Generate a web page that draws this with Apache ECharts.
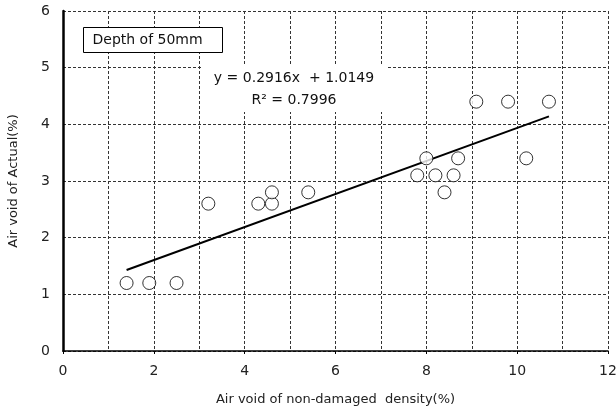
<!DOCTYPE html>
<html>
<head>
<meta charset="utf-8">
<script src="https://cdn.jsdelivr.net/npm/echarts@6/dist/echarts.min.js"></script>
<style>
  html, body { margin: 0; padding: 0; background: #fff; }
  #chart { width: 616px; height: 413px; }
</style>
</head>
<body>
<div id="chart"></div>
<script>
// measured points (x: non-damaged density air void, y: actual air void)
const airVoidX = [1.4, 1.9, 2.5, 3.2, 4.3, 4.6, 4.6, 5.4, 7.8, 8.0, 8.2, 8.4, 8.6, 8.7, 9.1, 9.8, 10.2, 10.7];
const airVoidY = [1.2, 1.2, 1.2, 2.6, 2.6, 2.6, 2.8, 2.8, 3.1, 3.4, 3.1, 2.8, 3.1, 3.4, 4.4, 4.4, 3.4, 4.4];

// linear trend line end points
const trendX = [1.4, 10.7];
const trendY = [1.43, 4.14];

const xTicks = [0, 2, 4, 6, 8, 10, 12];
const yTicks = [0, 1, 2, 3, 4, 5, 6];

const boxLabel = 'Depth of 50mm';
const eqLine1 = 'y = 0.2916x  + 1.0149';
const eqLine2 = 'R\u00b2 = 0.7996';

const FONT = 'DejaVu Sans';
const gridLine = { show: true, lineStyle: { color: '#333', width: 1, type: [3, 2] } };

const chart = echarts.init(document.getElementById('chart'), null, { renderer: 'canvas' });

chart.setOption({
  animation: false,
  backgroundColor: '#fff',
  textStyle: { fontFamily: FONT },
  grid: { left: 63, right: 8, top: 11, bottom: 62, outerBoundsMode: 'none', containLabel: false },
  xAxis: {
    type: 'value',
    min: xTicks[0],
    max: xTicks[xTicks.length - 1],
    interval: 2,
    name: 'Air void of non-damaged  density(%)',
    nameLocation: 'middle',
    nameGap: 42,
    nameTextStyle: { fontSize: 13, color: '#222', fontFamily: FONT },
    axisLine: { show: true, onZero: false, lineStyle: { color: '#000', width: 1.5 } },
    axisTick: { show: true, length: 3, lineStyle: { color: '#000' } },
    axisLabel: { fontSize: 14, color: '#222', margin: 13, fontFamily: FONT },
    splitLine: gridLine,
    minorTick: { show: false, splitNumber: 2 },
    minorSplitLine: gridLine
  },
  yAxis: {
    type: 'value',
    min: yTicks[0],
    max: yTicks[yTicks.length - 1],
    interval: 1,
    name: 'Air void of Actual(%)',
    nameLocation: 'middle',
    nameGap: 43,
    nameRotate: 90,
    nameTextStyle: { fontSize: 13, color: '#222', fontFamily: FONT },
    axisLine: { show: true, onZero: false, lineStyle: { color: '#000', width: 2.5 } },
    axisTick: { show: false },
    axisLabel: { fontSize: 14, color: '#222', margin: 13, fontFamily: FONT },
    splitLine: gridLine
  },
  graphic: [
    {
      type: 'group',
      left: 83,
      top: 27,
      z: 20,
      children: [
        { type: 'rect', z: 20, shape: { x: 0, y: 0, width: 139, height: 25 },
          style: { fill: '#fff', stroke: '#000', lineWidth: 1 } },
        { type: 'text', z: 21, x: 9, y: 13,
          style: { text: boxLabel, font: '14px ' + FONT, fill: '#111', textVerticalAlign: 'middle' } }
      ]
    },
    {
      type: 'group',
      left: 203,
      top: 65,
      z: 20,
      children: [
        { type: 'rect', z: 20, shape: { x: 0, y: 0, width: 185, height: 47 },
          style: { fill: '#fff' } },
        { type: 'text', z: 21, x: 91, y: 13,
          style: { text: eqLine1, font: '14px ' + FONT, fill: '#111', textAlign: 'center', textVerticalAlign: 'middle' } },
        { type: 'text', z: 21, x: 91, y: 35,
          style: { text: eqLine2, font: '14px ' + FONT, fill: '#111', textAlign: 'center', textVerticalAlign: 'middle' } }
      ]
    }
  ],
  series: [
    {
      type: 'line',
      data: trendX.map((x, i) => [x, trendY[i]]),
      showSymbol: false,
      symbol: 'none',
      lineStyle: { color: '#000', width: 2 },
      z: 3
    },
    {
      type: 'scatter',
      data: airVoidX.map((x, i) => [x, airVoidY[i]]),
      symbol: 'circle',
      symbolSize: 13,
      itemStyle: { color: '#fff', borderColor: '#000', borderWidth: 1 },
      z: 4
    }
  ]
});
</script>
</body>
</html>
